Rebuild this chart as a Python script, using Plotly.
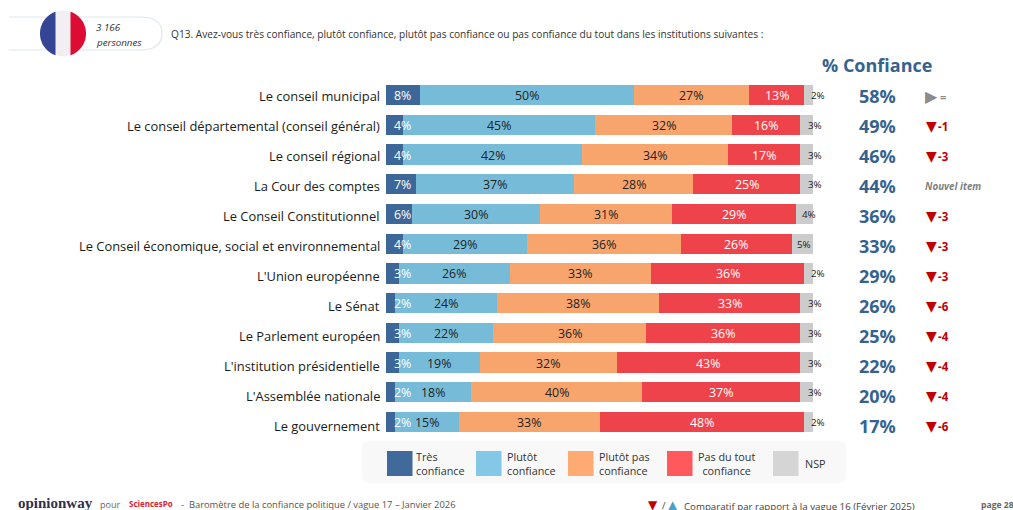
import math
import plotly.graph_objects as go

categories = ["Le conseil municipal", "Le conseil départemental (conseil général)", "Le conseil régional",
              "La Cour des comptes", "Le Conseil Constitutionnel", "Le Conseil économique, social et environnemental",
              "L'Union européenne", "Le Sénat", "Le Parlement européen", "L'institution présidentielle",
              "L'Assemblée nationale", "Le gouvernement"]
tres = [8, 4, 4, 7, 6, 4, 3, 2, 3, 3, 2, 2]
plutot = [50, 45, 42, 37, 30, 29, 26, 24, 22, 19, 18, 15]
plutot_pas = [27, 32, 34, 28, 31, 36, 33, 38, 36, 32, 40, 33]
pas_du_tout = [13, 16, 17, 25, 29, 26, 36, 33, 36, 43, 37, 48]
nsp = [2, 3, 3, 3, 4, 5, 2, 3, 3, 3, 3, 2]
confiance = [58, 49, 46, 44, 36, 33, 29, 26, 25, 22, 20, 17]
evolution = [0, -1, -3, None, -3, -3, -3, -6, -4, -4, -4, -6]

series_names = ["Très<br>confiance", "Plutôt<br>confiance", "Plutôt pas<br>confiance", "Pas du tout<br>confiance", "NSP"]
series_vals = [tres, plutot, plutot_pas, pas_du_tout, nsp]
bar_colors = ["#3d6798", "#76bcd9", "#f7a56d", "#ee434b", "#cccccc"]
legend_colors = ["#41699b", "#83c9e7", "#ffaa72", "#ff595e", "#d5d5d5"]
label_colors = ["#ffffff", "#222222", "#222222", "#ffffff", "#222222"]

W, H = 1013, 510
FONT = "Open Sans"
def px(x): return x / W
def py(y): return 1 - y / H

fig = go.Figure()
for name, vals, col in zip(series_names, series_vals, bar_colors):
    fig.add_trace(go.Bar(y=categories, x=vals, name=name.replace("<br>", " "), orientation="h",
                         marker=dict(color=col, line=dict(width=0)), showlegend=False))

ann = []
def text(x, y, s, size=10, color="#333333", anchor="left", **kw):
    ann.append(dict(xref="paper", yref="paper", x=px(x), y=py(y), text=s, showarrow=False, xanchor=anchor,
                    yanchor="middle", font=dict(family=kw.pop("family", FONT), size=size, color=color),
                    align=kw.pop("align", "left"), **kw))

nsp_shift = {2: 9, 3: 8, 4: 5, 5: 2}
for i, cat in enumerate(categories):
    row_shift = -(1 + 0.27 * i)
    ann.append(dict(xref="paper", yref="y", x=px(382), y=cat, xanchor="right", text=cat, showarrow=False, yshift=row_shift,
                    font=dict(family=FONT, size=12.9, color="#1a1a1a")))
    cum = 0
    for j, vals in enumerate(series_vals):
        v = vals[i]
        if j == 0:
            xpos, shift = 0, 16
        elif j == 4:
            xpos, shift = cum + v / 2, nsp_shift[v]
        else:
            xpos, shift = cum + v / 2, 0
        ann.append(dict(xref="x", yref="y", x=xpos, y=cat, text=f"{v}%", showarrow=False, xshift=shift, yshift=-0.5,
                        font=dict(family=FONT, size=9.8 if j == 4 else 12.4, color=label_colors[j])))
        cum += v
    ann.append(dict(xref="paper", yref="y", x=px(877), y=cat, xanchor="center", text=f"<b>{confiance[i]}%</b>",
                    showarrow=False, yshift=row_shift, font=dict(family=FONT, size=18, color="#35628f")))
    d = evolution[i]
    if d is None:
        ann.append(dict(xref="paper", yref="y", x=px(923), y=cat, xanchor="left", text="<b><i>Nouvel item</i></b>",
                        showarrow=False, yshift=row_shift, font=dict(family=FONT, size=9.8, color="#7f7f7f")))
    elif d == 0:
        ann.append(dict(xref="paper", yref="y", x=px(931), y=cat, xanchor="center", text="▶", showarrow=False, yshift=row_shift,
                        font=dict(family="DejaVu Sans", size=16, color="#8c8c8c")))
        ann.append(dict(xref="paper", yref="y", x=px(938), y=cat, xanchor="left", text="<b>=</b>", showarrow=False, yshift=row_shift,
                        font=dict(family=FONT, size=11, color="#8c8c8c")))
    else:
        ann.append(dict(xref="paper", yref="y", x=px(931), y=cat, xanchor="center", text="▼", showarrow=False, yshift=row_shift,
                        font=dict(family="DejaVu Sans", size=14, color="#c00000")))
        ann.append(dict(xref="paper", yref="y", x=px(936), y=cat, xanchor="left", text=f"<b>{d}</b>", showarrow=False, yshift=row_shift,
                        font=dict(family=FONT, size=11.5, color="#c00000")))

text(877, 65, "<b>% Confiance</b>", size=18, color="#35628f", anchor="center")
text(169, 34, "Q13. Avez-vous très confiance, plutôt confiance, plutôt pas confiance ou pas confiance du tout dans les institutions suivantes :", size=10.15, color="#333333")
text(94, 27, "<i>3 166</i>", size=9.8, color="#333333")
text(94, 42, "<i>personnes</i>", size=9.8, color="#333333")

shapes = []
def rrect(x0, y0, x1, y1, r):
    return (f"M{px(x0+r)},{py(y0)} L{px(x1-r)},{py(y0)} Q{px(x1)},{py(y0)} {px(x1)},{py(y0+r)} "
            f"L{px(x1)},{py(y1-r)} Q{px(x1)},{py(y1)} {px(x1-r)},{py(y1)} L{px(x0+r)},{py(y1)} "
            f"Q{px(x0)},{py(y1)} {px(x0)},{py(y1-r)} L{px(x0)},{py(y0+r)} Q{px(x0)},{py(y0)} {px(x0+r)},{py(y0)} Z")
shapes.append(dict(type="path", xref="paper", yref="paper", path=rrect(362, 441, 846, 483, 8),
                   fillcolor="#f8f8f8", line=dict(width=0), layer="below"))
swatch_x = [387, 476, 568, 667, 773]
label_x = [414, 505, 597, 726, 815]
label_anchor = ["left", "left", "left", "center", "center"]
for name, col, sx, lx, la in zip(series_names, legend_colors, swatch_x, label_x, label_anchor):
    shapes.append(dict(type="rect", xref="paper", yref="paper", x0=px(sx), x1=px(sx + 25.5), y0=py(451), y1=py(476),
                       fillcolor=col, line=dict(width=0)))
    text(lx, 463.5, name, size=10.8, color="#333333", anchor=la, align="center" if la == "center" else "left")

shapes.append(dict(type="path", xref="paper", yref="paper", line=dict(color="#dde7ee", width=1.2),
                   path=(f"M{px(9)},{py(17)} L{px(140)},{py(17)} Q{px(162)},{py(17)} {px(162)},{py(33.5)} "
                         f"Q{px(162)},{py(50)} {px(140)},{py(50)} L{px(9)},{py(50)}")))
cx, cy, rad = 63, 33.5, 23
shapes.append(dict(type="circle", xref="paper", yref="paper", x0=px(cx-rad), x1=px(cx+rad), y0=py(cy-rad), y1=py(cy+rad),
                   fillcolor="#f1eff2", line=dict(width=0)))
def seg(sign):
    half = 7.5
    steps = 40
    start = math.acos(half / rad)
    pts = []
    for k in range(steps + 1):
        a = -start + 2 * start * k / steps
        pts.append((cx + sign * rad * math.cos(a), cy + rad * math.sin(a)))
    return "M" + " L".join(f"{px(x)},{py(y)}" for x, y in pts) + " Z"
shapes.append(dict(type="path", xref="paper", yref="paper", path=seg(-1), fillcolor="#354596", line=dict(width=0)))
shapes.append(dict(type="path", xref="paper", yref="paper", path=seg(1), fillcolor="#dc0c33", line=dict(width=0)))

text(16, 503, "<b>opinionway</b>", size=15, color="#2f2f4f", family="Liberation Serif")
text(98, 504.5, "pour", size=9, color="#666666")
text(127, 503, "<b>SciencesPo</b>", size=8, color="#d9232e")
text(179, 504, "-  Baromètre de la confiance politique / vague 17 – Janvier 2026", size=9.4, color="#555555")
text(646, 505, "▼", size=12, color="#c00000", family="DejaVu Sans")
text(660, 505, "/", size=9.5, color="#444444")
text(666, 505, "▲", size=12, color="#4aa3c7", family="DejaVu Sans")
text(682, 506, "Comparatif par rapport à la vague 16 (Février 2025)", size=9.7, color="#444444")
text(979, 504.5, "<b>page 28</b>", size=8.6, color="#666666")

fig.update_layout(
    width=W, height=H, barmode="stack", bargap=0.32, margin=dict(l=0, r=0, t=0, b=0, autoexpand=False),
    paper_bgcolor="white", plot_bgcolor="white", annotations=ann, shapes=shapes,
    xaxis=dict(domain=[px(386), px(813)], range=[0, 100], visible=False, fixedrange=True),
    yaxis=dict(domain=[py(436.9), py(80.1)], autorange="reversed", showline=False, showgrid=False, zeroline=False,
               ticks="", showticklabels=False, fixedrange=True),
)
fig.write_html("out.html", config={"displayModeBar": False},
               post_script="document.body.style.margin='0';document.body.style.overflow='hidden';")
